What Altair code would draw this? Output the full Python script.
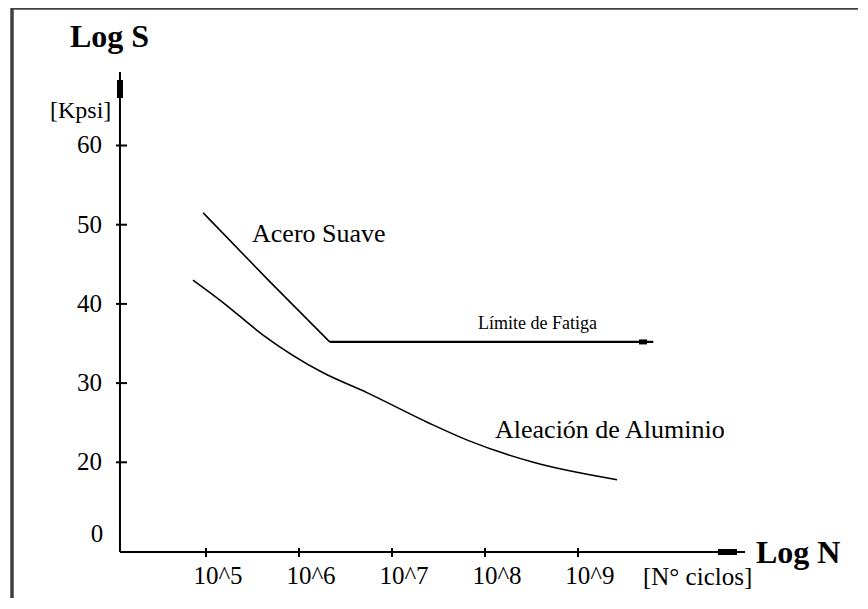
import altair as alt
import pandas as pd

# ---- data (x = log10 N, y = S in kpsi) ----
acero_x = [4.97, 5.67, 6.33]
acero_y = [51.5, 43.0, 35.2]
limite_x = [6.33, 9.81]
limite_y = [35.2, 35.2]
alum_x = [4.86, 5.18, 5.61, 6.26, 6.73, 7.39, 7.81, 8.52, 9.42]
alum_y = [43.0, 40.2, 36.1, 31.3, 28.8, 25.0, 22.8, 20.0, 17.8]

x_ticks = [5, 6, 7, 8, 9]
x_tick_labels = ["10^5", "10^6", "10^7", "10^8", "10^9"]
y_ticks = [20, 30, 40, 50, 60]
y_tick_labels = ["20", "30", "40", "50", "60"]

W, H = 850, 590
xs = alt.Scale(domain=[2.871, 12.011], nice=False, zero=False)
ys = alt.Scale(domain=[2.866, 77.361], nice=False, zero=False)
FONT = "Liberation Serif, 'Times New Roman', Times, 'DejaVu Serif', serif"

AX_X = 4.075      # position of the vertical axis
AX_Y = 8.67       # position of the horizontal axis
Y_TOP = 69.28
X_END = 10.796


def X(f):
    return alt.X(f, type="quantitative", scale=xs, axis=None)


def Y(f):
    return alt.Y(f, type="quantitative", scale=ys, axis=None)


# ---- segments: axes, ticks, arrow heads ----
seg = [
    dict(x=AX_X, x2=AX_X, y=AX_Y, y2=Y_TOP, w=2),
    dict(x=AX_X, x2=X_END, y=AX_Y, y2=AX_Y, w=2),
    dict(x=AX_X, x2=AX_X, y=66.0, y2=68.27, w=6),
    dict(x=10.505, x2=10.71, y=AX_Y, y2=AX_Y, w=6),
    dict(x=9.656, x2=9.742, y=35.2, y2=35.2, w=5),
]
for t in y_ticks:
    seg.append(dict(x=4.032, x2=4.151, y=t, y2=t, w=2))
for t in x_ticks:
    seg.append(dict(x=t, x2=t, y=9.18, y2=8.04, w=2))
seg_df = pd.DataFrame(seg)

segments = alt.Chart(seg_df).mark_rule(color="black", strokeCap="butt").encode(
    x=X("x"), x2="x2", y=Y("y"), y2="y2",
    strokeWidth=alt.StrokeWidth("w:Q", scale=None),
)

acero = alt.Chart(pd.DataFrame({"x": acero_x, "y": acero_y})).mark_line(
    color="black", strokeWidth=1.6
).encode(x=X("x"), y=Y("y"))

limite = alt.Chart(pd.DataFrame({"x": limite_x, "y": limite_y})).mark_line(
    color="black", strokeWidth=2.2
).encode(x=X("x"), y=Y("y"))

alum = alt.Chart(pd.DataFrame({"x": alum_x, "y": alum_y})).mark_line(
    color="black", strokeWidth=1.6, interpolate="monotone"
).encode(x=X("x"), y=Y("y"))

# ---- frame ----
frame_top = alt.Chart(pd.DataFrame({"a": [0]})).mark_rule(
    color="#404040", strokeWidth=2
).encode(x=alt.value(4), x2=alt.value(W), y=alt.value(0.8))
frame_left = alt.Chart(pd.DataFrame({"a": [0]})).mark_rule(
    color="#404040", strokeWidth=3.5
).encode(x=alt.value(4), y=alt.value(0), y2=alt.value(H))


def texts(df, size, align="left", weight="normal", dx=0, dy=0, baseline="alphabetic"):
    return alt.Chart(df).mark_text(
        font=FONT, fontSize=size, align=align, fontWeight=weight,
        dx=dx, dy=dy, baseline=baseline, color="black"
    ).encode(x=X("x"), y=Y("y"), text="t:N")


titles = texts(pd.DataFrame({"t": ["Log S", "Log N"], "x": [3.538, 10.914], "y": [72.44, 7.29]}),
               32, weight="bold")
kpsi = texts(pd.DataFrame({"t": ["[Kpsi]"], "x": [3.323], "y": [63.47]}), 24)
ciclos = texts(pd.DataFrame({"t": ["[N° ciclos]"], "x": [9.699], "y": [4.51]}), 25)
ylabels = texts(pd.DataFrame({"t": y_tick_labels, "x": [3.882] * 5, "y": y_ticks}),
                25, align="right", dy=8)
zero = texts(pd.DataFrame({"t": ["0"], "x": [3.895], "y": [9.94]}), 25, align="right")
xlabels = texts(pd.DataFrame({"t": x_tick_labels, "x": x_ticks, "y": [4.63] * 5}),
                25, align="center", dx=12)
curve_lbl = texts(pd.DataFrame({"t": ["Acero Suave", "Aleación de Aluminio"],
                                "x": [5.495, 8.108], "y": [47.81, 23.07]}), 26)
lim_lbl = texts(pd.DataFrame({"t": ["Límite de Fatiga"], "x": [7.925], "y": [36.85]}), 18)

chart = alt.layer(
    frame_top, frame_left, segments, acero, limite, alum,
    titles, kpsi, ciclos, ylabels, zero, xlabels, curve_lbl, lim_lbl
).properties(
    width=W, height=H, autosize=alt.AutoSizeParams(type="none"), padding=0,
    background="white"
).configure_view(stroke=None)

chart.save("out.html", embed_options={"renderer": "svg", "actions": False})
